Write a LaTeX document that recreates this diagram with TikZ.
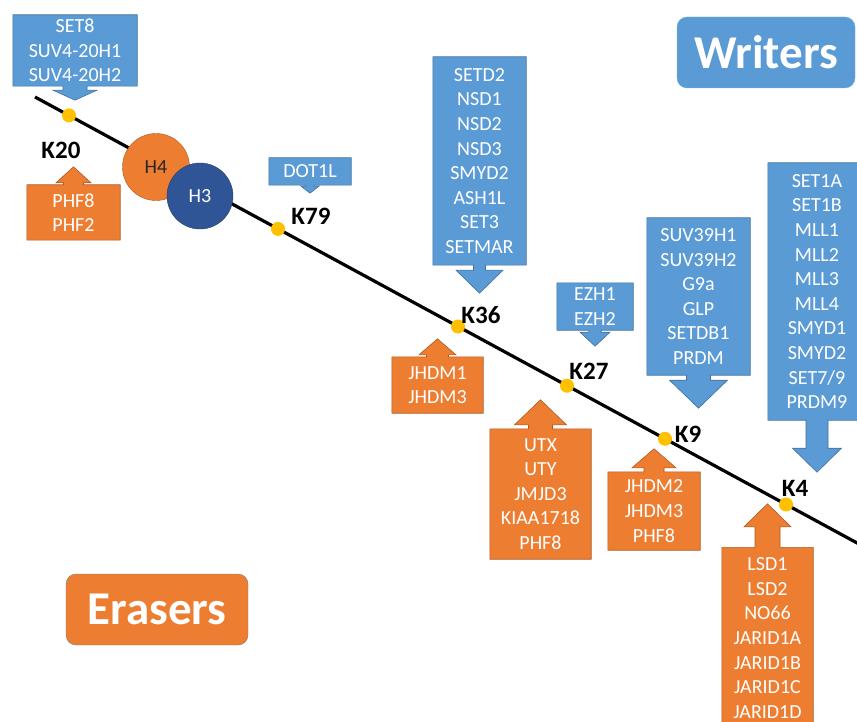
\documentclass[tikz,border=0pt]{standalone}
\usepackage{fontspec}
\setmainfont{Carlito}
\usetikzlibrary{calc,backgrounds}

\definecolor{wblue}{HTML}{5B9BD5}
\definecolor{wblueline}{HTML}{41719C}
\definecolor{eorange}{HTML}{ED7D31}
\definecolor{eorangeline}{HTML}{AE5A21}
\definecolor{hthree}{HTML}{2F5597}
\definecolor{dotgold}{HTML}{FFC000}

\newcommand{\genefont}{\fontsize{20}{24.6}\selectfont}
\newcommand{\sitefont}{\fontsize{25}{30}\selectfont\bfseries}
\newcommand{\rolefont}{\fontsize{47}{56}\selectfont\bfseries}

% callout outlines: node, stem half width, head half width, stem length, head length
\newcommand{\writearrow}[5]{%
  \begin{pgfonlayer}{background}
  \draw[writer] (#1.north west) -- (#1.north east) -- (#1.south east)
    -- ($(#1.south)+(#2,0)$) -- ($(#1.south)+(#2,#4)$) -- ($(#1.south)+(#3,#4)$)
    -- ($(#1.south)+(0,{#4+#5})$) -- ($(#1.south)+(-#3,#4)$) -- ($(#1.south)+(-#2,#4)$)
    -- ($(#1.south)+(-#2,0)$) -- (#1.south west) -- cycle;
  \end{pgfonlayer}}
\newcommand{\erasearrow}[5]{%
  \begin{pgfonlayer}{background}
  \draw[eraser] (#1.south west) -- (#1.north west)
    -- ($(#1.north)+(-#2,0)$) -- ($(#1.north)+(-#2,-#4)$) -- ($(#1.north)+(-#3,-#4)$)
    -- ($(#1.north)+(0,{-#4-#5})$) -- ($(#1.north)+(#3,-#4)$) -- ($(#1.north)+(#2,-#4)$)
    -- ($(#1.north)+(#2,0)$) -- (#1.north east) -- (#1.south east) -- cycle;
  \end{pgfonlayer}}

\tikzset{
  writer/.style={fill=wblue, draw=wblueline, line width=0.6pt},
  eraser/.style={fill=eorange, draw=eorangeline, line width=0.6pt},
  genes/.style={inner sep=0pt, text=white, align=center, font=\genefont},
  site/.style={circle, fill=dotgold, inner sep=0pt, minimum size=14pt},
  sitelabel/.style={font=\sitefont, inner sep=0pt},
  histone/.style={circle, minimum size=67pt, inner sep=0pt, font=\genefont},
  role/.style={rounded corners=10pt, inner sep=0pt, text=white, font=\rolefont,
    minimum height=71pt}
}

\begin{document}
\begin{tikzpicture}[x=1pt,y=-1pt]
\useasboundingbox (0,0) rectangle (857,722);

\coordinate (start) at (35,97);
\coordinate (end) at (870,550);
\draw[line width=3.2pt] (start) -- (end);

\node[histone, fill=eorange, draw=eorangeline, text=black!85] (h4) at (156,167) {H4};
\node[histone, fill=hthree, draw=hthree!70!black, text=white, minimum size=66pt] (h3) at (200,196) {H3};

\node[site] (k20) at (69,115.4) {};
\node[site] (k79) at (278,228.9) {};
\node[site] (k36) at (458,326.5) {};
\node[site] (k27) at (567,385.7) {};
\node[site] (k9) at (665,438.8) {};
\node[site] (k4) at (786,504.5) {};

\node[sitelabel] at (61,150) {K20};
\node[sitelabel] at (311,216) {K79};
\node[sitelabel] at (481,315) {K36};
\node[sitelabel] at (589,371) {K27};
\node[sitelabel] at (688,434) {K9};
\node[sitelabel] at (795,488) {K4};

% writers
\node[genes, minimum width=124pt, minimum height=71pt] (w20) at (75,50.5) {SET8\\SUV4-20H1\\SUV4-20H2};
\node[genes, minimum width=82pt, minimum height=27pt] (w79) at (310,171.5) {DOT1L};
\node[genes, minimum width=93pt, minimum height=208pt] (w36) at (479.5,161) {SETD2\\NSD1\\NSD2\\NSD3\\SMYD2\\ASH1L\\SET3\\SETMAR};
\node[genes, minimum width=76pt, minimum height=47pt] (w27) at (595,306.5) {EZH1\\EZH2};
\node[genes, minimum width=103pt, minimum height=157pt] (w9) at (698.5,296.5) {SUV39H1\\SUV39H2\\G9a\\GLP\\SETDB1\\PRDM};
\node[genes, minimum width=98pt, minimum height=257pt] (w4) at (817,291.5) {SET1A\\SET1B\\MLL1\\MLL2\\MLL3\\MLL4\\SMYD1\\SMYD2\\SET7/9\\PRDM9};

\writearrow{w20}{12}{22}{4}{10}
\writearrow{w79}{4}{9}{1}{7}
\writearrow{w36}{6}{23.5}{5}{23}
\writearrow{w27}{6}{15}{2}{14}
\writearrow{w9}{12}{29}{5}{28}
\writearrow{w4}{11}{24.5}{28}{24}

% erasers
\node[genes, minimum width=93pt, minimum height=55pt] (e20) at (73.5,212.5) {PHF8\\PHF2};
\node[genes, minimum width=91pt, minimum height=56pt] (e36) at (437.5,385) {JHDM1\\JHDM3};
\node[genes, minimum width=101pt, minimum height=130pt] (e27) at (540.5,494) {UTX\\UTY\\JMJD3\\KIAA1718\\PHF8};
\node[genes, minimum width=92pt, minimum height=78pt] (e9) at (654,511) {JHDM2\\JHDM3\\PHF8};
\node[genes, minimum width=91pt, minimum height=181pt] (e4) at (767.5,638) {LSD1\\LSD2\\NO66\\JARID1A\\JARID1B\\JARID1C\\JARID1D};

\erasearrow{e20}{10}{17.5}{2}{16}
\erasearrow{e36}{11}{18.5}{2}{16}
\erasearrow{e27}{12}{26}{4}{25}
\erasearrow{e9}{10}{22}{4}{19}
\erasearrow{e4}{12.5}{23.5}{20.5}{23}

\node[role, fill=wblue, draw=wblue!80, minimum width=178pt] (writers) at (766,52.5) {Writers};
\node[role, fill=eorange, draw=black!50, minimum width=182pt] (erasers) at (157,609.5) {Erasers};
\end{tikzpicture}
\end{document}
